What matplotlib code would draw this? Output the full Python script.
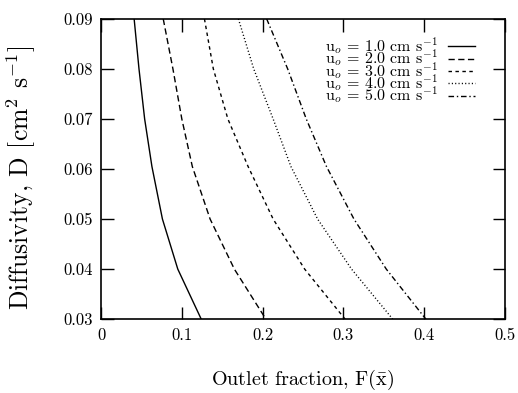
import matplotlib
matplotlib.use("Agg")
import matplotlib.pyplot as plt

plt.rcParams['font.family'] = 'cmr10'
plt.rcParams['mathtext.fontset'] = 'cm'
plt.rcParams['axes.formatter.use_mathtext'] = True

# diffusivity levels (y) and outlet fraction read for each inlet velocity (x)
diffusivity = [0.09, 0.08, 0.07, 0.0605, 0.05, 0.04, 0.03]
frac_u1 = [0.041, 0.047, 0.054, 0.063, 0.076, 0.095, 0.124]
frac_u2 = [0.077, 0.089, 0.100, 0.113, 0.135, 0.165, 0.204]
frac_u3 = [0.128, 0.139, 0.157, 0.182, 0.213, 0.252, 0.302]
frac_u4 = [0.170, 0.189, 0.213, 0.235, 0.268, 0.310, 0.361]
frac_u5 = [0.205, 0.231, 0.254, 0.279, 0.313, 0.353, 0.402]
velocities = ['1.0', '2.0', '3.0', '4.0', '5.0']

xticks = [0, 0.1, 0.2, 0.3, 0.4, 0.5]
xtick_labels = ['0', '0.1', '0.2', '0.3', '0.4', '0.5']
yticks = [0.03, 0.04, 0.05, 0.06, 0.07, 0.08, 0.09]
ytick_labels = ['0.03', '0.04', '0.05', '0.06', '0.07', '0.08', '0.09']

styles = ['-', (0, (4.5, 2.5)), (0, (2.5, 2.5)), (0, (0.8, 1.6)), (0, (4, 2, 1, 2))]

fig = plt.figure(figsize=(5.18, 3.93), dpi=100)
ax = fig.add_axes([0.195, 0.188, 0.780, 0.764])

for frac, u, ls in zip([frac_u1, frac_u2, frac_u3, frac_u4, frac_u5], velocities, styles):
    ax.plot(frac, diffusivity, color='black', lw=1.0, linestyle=ls,
            label=r'u$_o$ = %s cm s$^{-1}$' % u)

ax.set_xlim(0, 0.5)
ax.set_ylim(0.03, 0.09)
ax.set_xticks(xticks)
ax.set_xticklabels(xtick_labels)
ax.set_yticks(yticks)
ax.set_yticklabels(ytick_labels)
ax.tick_params(direction='in', length=9, width=1.0, top=True, right=True,
               labelsize=12, pad=6)
for s in ax.spines.values():
    s.set_linewidth(1.2)

ax.set_xlabel(r'Outlet fraction, F($\bar{\mathrm{x}}$)', fontsize=14.5, labelpad=18)
ax.set_ylabel(r'Diffusivity, D [cm$^2$ s$^{-1}$]', fontsize=18.5)
ax.yaxis.set_label_coords(-0.155, 0.47)

ax.legend(loc='upper right', bbox_to_anchor=(0.945, 0.97), frameon=False,
          markerfirst=False, fontsize=11.5, labelspacing=-0.55,
          handlelength=1.7, handletextpad=0.6, borderpad=0)

fig.savefig('out.png', dpi=100)
